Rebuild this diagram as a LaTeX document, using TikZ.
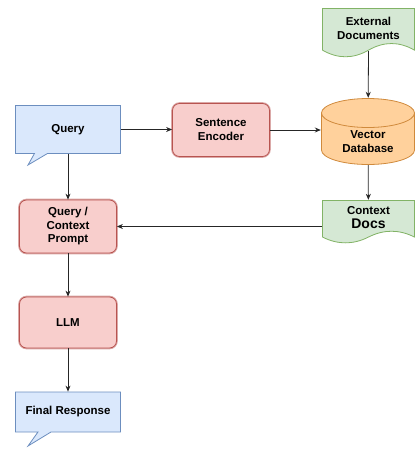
\documentclass[tikz,border=0pt]{standalone}
\usepackage{fontspec}
\setmainfont{Liberation Sans}
\usetikzlibrary{positioning}
\usetikzlibrary{shapes.geometric, shapes.callouts}
\usetikzlibrary{calc}
\usetikzlibrary{arrows.meta}
\definecolor{blueFill}{HTML}{DAE8FC}
\definecolor{blueLine}{HTML}{6C8EBF}
\definecolor{redFill}{HTML}{F8CECC}
\definecolor{redLine}{HTML}{B85450}
\definecolor{greenFill}{HTML}{D5E8D4}
\definecolor{greenLine}{HTML}{82B366}
\definecolor{orangeFill}{HTML}{FFD19C}
\definecolor{orangeLine}{HTML}{D08A3C}

\begin{document}
\begin{tikzpicture}[x=1pt, y=-1pt, font=\bfseries\fontsize{11.5}{14}\selectfont,
  bubble/.style = {rectangle callout, draw=blueLine, fill=blueFill, line width=.8pt, minimum width=105pt, callout pointer width=13pt},
  proc/.style = {draw=redLine, fill=redFill, rounded corners=7pt, line width=.8pt, minimum width=97pt, align=center, preaction={draw=redLine!50, line width=2.6pt}},
  db/.style = {minimum width=94pt, minimum height=67pt, path picture={
      \path[fill=orangeFill, draw=orangeLine, line width=.8pt]
      let \p1=([shift={(.5pt,-.5pt)}]path picture bounding box.north west),
      \p2=([shift={(-.5pt,.5pt)}]path picture bounding box.south east),
      \n1={(\x2-\x1)/2}
      in (\x1,\y1-14.5pt) -- (\x1,\y2+14.5pt)
      arc[start angle=180, end angle=360, x radius=\n1*1pt, y radius=14.5pt] -- (\x2,\y1-14.5pt)
      arc[start angle=0, end angle=180, x radius=\n1*1pt, y radius=14.5pt] -- cycle
      (\x1,\y1-14.5pt) arc[start angle=180, end angle=360, x radius=\n1*1pt, y radius=14.5pt];
    }},
  doc/.style = {minimum width=93pt, path picture={
      \path[fill=greenFill, draw=greenLine, line width=.8pt]
      let \p1=([shift={(.5pt,-.5pt)}]path picture bounding box.north west),
      \p2=([shift={(-.5pt,.5pt)}]path picture bounding box.south east),
      \n1={\x2-\x1}, \n2={\y1-\y2}, \n3={0.3*\n2}
      in (\x1,\y1) -- (\x2,\y1) -- (\x2,\y2+0.5*\n3)
      .. controls (\x2-\n1/6,\y2+1.1*\n3) and (\x1+2*\n1/3,\y2+1.1*\n3) .. (\x1+0.5*\n1,\y2+0.5*\n3)
      .. controls (\x1+\n1/3,\y2-0.1*\n3) and (\x1+\n1/6,\y2-0.1*\n3) .. (\x1,\y2+0.5*\n3) -- cycle;
    }},
  arr/.style = {-{Stealth[length=6pt,width=5pt]}, draw=black!85, line width=.8pt}]
  \useasboundingbox (0,0) rectangle (416,451);

  \node[bubble, minimum height=48pt, callout absolute pointer={(28,165)}] (query) at (68,129.5) {Query};
  \node[proc, minimum height=53pt] (enc) at (221,130) {Sentence\\Encoder};
  \node[doc, minimum height=50pt, label={[name=extText, align=center, yshift=5pt]center:External\\Documents}] (ext) at (368.5,33) {};
  \node[db, label={[name=vdbText, align=center, yshift=-10pt]center:Vector\\Database}] (vdb) at (368,131.5) {};
  \node[doc, minimum height=44pt, label={[name=ctxText, align=center, yshift=4pt]center:Context\\{\fontsize{14}{16}\selectfont Docs}}] (ctx) at (368.5,222) {};
  \node[proc, minimum height=53pt, font=\bfseries\fontsize{11.5}{13.5}\selectfont] (prompt) at (68,226.5) {Query /\\Context\\Prompt};
  \node[proc, minimum height=51pt] (llm) at (68,322.5) {LLM};
  \node[bubble, minimum height=40pt, callout absolute pointer={(28,446)}] (final) at (68,412) {Final Response};

  \draw[arr] (query.east) -- (query.east -| enc.west);
  \draw[arr] (enc.east) -- (enc.east -| vdb.west);
  \draw[arr] ([yshift=7pt]ext.south) -- (vdb);
  \draw[arr] (vdb) -- (ctx);
  \draw[arr] (ctx.west |- prompt) -- (prompt);
  \draw[arr] (query.south) -- (prompt.north);
  \draw[arr] (prompt) -- (llm);
  \draw[arr] (llm.south) -- (final.north);
\end{tikzpicture}
\end{document}
